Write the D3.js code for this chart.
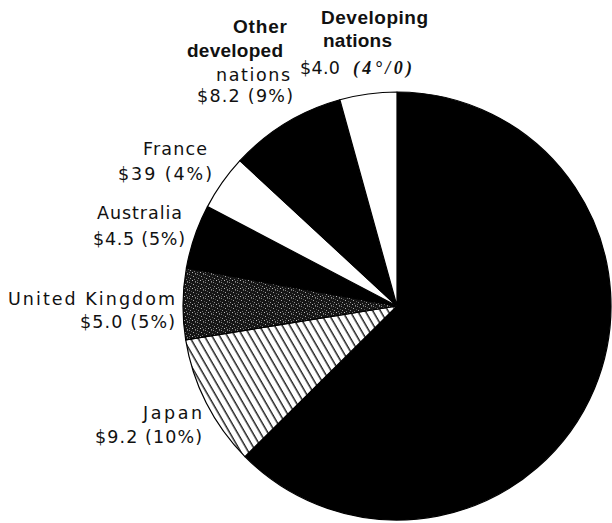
<!DOCTYPE html>
<html>
<head>
<meta charset="utf-8">
<script src="https://cdn.jsdelivr.net/npm/d3@7"></script>
<style>
  html, body { margin: 0; padding: 0; background: #fff; }
  svg { display: block; }
</style>
</head>
<body>
<div id="chart"></div>
<script>
// slices, clockwise from 12 o'clock
const categories = ['Remainder', 'Japan', 'United Kingdom', 'Australia', 'France', 'Other developed nations', 'Developing nations'];
const values = [58.2, 9.2, 5.0, 4.5, 3.9, 8.2, 4.0];
const nameLines = [[], ['Japan'], ['United Kingdom'], ['Australia'], ['France'], ['Other', 'developed', 'nations'], ['Developing', 'nations']];
const valueLabels = ['', '$9.2 (10%)', '$5.0 (5%)', '$4.5 (5%)', '$39 (4%)', '$8.2 (9%)', '$4.0'];
const pctNote = '(4°/0)';

// --- layout / style (not data) ---
const W = 612, H = 523;
const cx = 397, cy = 306, radius = 214;
const fills = ['#000', 'url(#hatch)', 'url(#stipple)', '#000', '#fff', '#000', '#fff'];

// where each label line sits: [x, baseline, anchor, width, bold]
const labelLayout = {
  'Japan':          { names: [[202, 419, 'end', 59, false]], value: [202, 443, 'end', 107] },
  'United Kingdom': { names: [[175, 305, 'end', 167, false]], value: [175, 328, 'end', 95] },
  'Australia':      { names: [[182, 219, 'end', 85, false]], value: [185, 245, 'end', 92] },
  'France':         { names: [[207, 155, 'end', 64, false]], value: [212, 180, 'end', 94] },
  'Other developed nations': {
    names: [[287, 33, 'end', 54, true], [283, 57, 'end', 96, true], [290, 81, 'end', 74, false]],
    value: [293, 102, 'end', 96]
  },
  'Developing nations': {
    names: [[321, 24, 'start', 107, true], [323, 47, 'start', 69, true]],
    value: [300, 74, 'start', 40]
  }
};

const svg = d3.select('#chart').append('svg')
  .attr('width', W)
  .attr('height', H)
  .attr('viewBox', `0 0 ${W} ${H}`);

const defs = svg.append('defs');

// Japan: white with steep diagonal hatching
const hatch = defs.append('pattern')
  .attr('id', 'hatch')
  .attr('patternUnits', 'userSpaceOnUse')
  .attr('width', 6.6)
  .attr('height', 10)
  .attr('patternTransform', 'rotate(-30)');
hatch.append('rect').attr('width', 6.6).attr('height', 10).attr('fill', '#fff');
hatch.append('line')
  .attr('x1', 3).attr('y1', 0).attr('x2', 3).attr('y2', 10)
  .attr('stroke', '#000').attr('stroke-width', 1.3);

// United Kingdom: dark mottled stipple
const stipple = defs.append('pattern')
  .attr('id', 'stipple')
  .attr('patternUnits', 'userSpaceOnUse')
  .attr('width', 8)
  .attr('height', 8);
stipple.append('rect').attr('width', 8).attr('height', 8).attr('fill', '#151515');
[[0, 0, '#888'], [2, 1, '#555'], [4, 2, '#aaa'], [6, 0, '#666'], [1, 4, '#999'],
 [5, 5, '#777'], [3, 6, '#bbb'], [7, 3, '#555'], [0, 6, '#666'], [6, 7, '#888']].forEach(p => {
  stipple.append('rect')
    .attr('x', p[0]).attr('y', p[1])
    .attr('width', 1).attr('height', 1)
    .attr('fill', p[2]);
});

// --- pie ---
const pie = d3.pie()
  .sort(null)
  .value(i => values[i])
  .startAngle(0)
  .endAngle(2 * Math.PI);

const arc = d3.arc().innerRadius(0).outerRadius(radius);

const g = svg.append('g').attr('transform', `translate(${cx},${cy})`);

g.selectAll('path')
  .data(pie(d3.range(values.length)))
  .join('path')
  .attr('d', arc)
  .attr('fill', d => fills[d.data])
  .attr('stroke', '#000')
  .attr('stroke-width', 1.2)
  .attr('stroke-linejoin', 'round');

// --- labels ---
function addLine(txt, spec, bold) {
  svg.append('text')
    .attr('x', spec[0])
    .attr('y', spec[1])
    .attr('text-anchor', spec[2])
    .attr('textLength', spec[3])
    .attr('lengthAdjust', 'spacing')
    .attr('font-family', bold ? '"Liberation Sans", Arial, sans-serif' : '"DejaVu Sans", sans-serif')
    .attr('font-size', bold ? 19 : 17.5)
    .attr('font-weight', bold ? 'bold' : 'normal')
    .attr('fill', '#111')
    .text(txt);
}

categories.forEach((cat, i) => {
  const lay = labelLayout[cat];
  if (!lay) return;
  nameLines[i].forEach((line, k) => addLine(line, lay.names[k], lay.names[k][4]));
  addLine(valueLabels[i], lay.value, false);
});

// odd serif percentage on the developing-nations label
svg.append('text')
  .attr('x', 353)
  .attr('y', 74)
  .attr('textLength', 59)
  .attr('lengthAdjust', 'spacing')
  .attr('font-family', '"Liberation Serif", "Times New Roman", serif')
  .attr('font-style', 'italic')
  .attr('font-weight', 'bold')
  .attr('font-size', 18)
  .attr('fill', '#111')
  .text(pctNote);
</script>
</body>
</html>
